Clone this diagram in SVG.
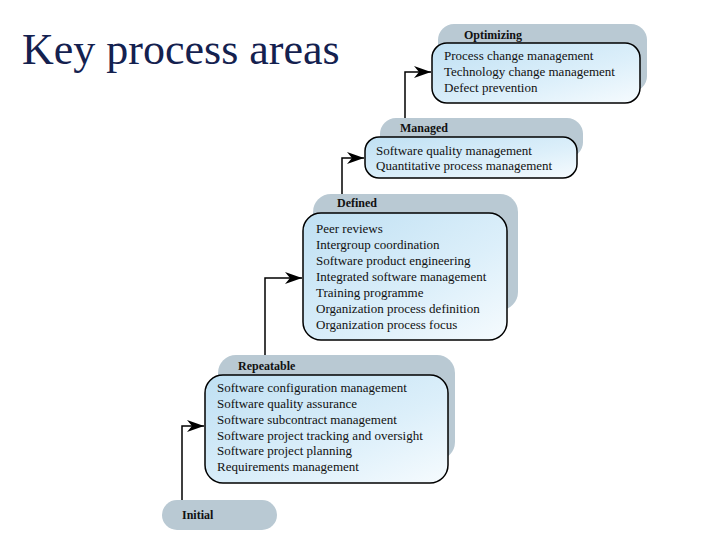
<svg xmlns="http://www.w3.org/2000/svg" width="720" height="540" viewBox="0 0 720 540">
<defs>
<linearGradient id="g" x1="0" y1="0" x2="1" y2="1">
<stop offset="0" stop-color="#bfe0f3"/>
<stop offset="0.6" stop-color="#dceffa"/>
<stop offset="1" stop-color="#f6fbfe"/>
</linearGradient>
<marker id="ah" markerUnits="userSpaceOnUse" markerWidth="18" markerHeight="12" refX="17" refY="6" orient="auto">
<path d="M0,0 L17,6 L0,12 L5,6 z" fill="#000"/>
</marker>
<style>
.back{fill:#b9c9d3}
.front{fill:url(#g);stroke:#000;stroke-width:1.5}
.t{font-family:"Liberation Serif","Times New Roman",serif;font-size:13px;fill:#111}
.h{font-family:"Liberation Serif","Times New Roman",serif;font-size:12px;font-weight:bold;fill:#111}
.c{fill:none;stroke:#000;stroke-width:1.5}
</style>
</defs>
<rect width="720" height="540" fill="#fff"/>
<text x="22" y="64" font-family="'Liberation Serif','Times New Roman',serif" font-size="44" fill="#14214f">Key process areas</text>

<g id="connectors">
<path class="c" d="M182 500 V426 H204" marker-end="url(#ah)"/>
<path class="c" d="M265 355 V278 H302" marker-end="url(#ah)"/>
<path class="c" d="M342 194 V158 H364" marker-end="url(#ah)"/>
<path class="c" d="M405 118 V72 H431" marker-end="url(#ah)"/>
</g>

<g id="initial">
<rect class="back" x="162" y="500" width="115" height="30" rx="15"/>
<text class="h" x="182" y="519">Initial</text>
</g>

<g id="repeatable">
<rect class="back" x="218" y="355" width="237" height="105" rx="18"/>
<text class="h" x="238" y="370">Repeatable</text>
<rect class="front" x="205" y="375" width="243" height="108" rx="18"/>
<text class="t" x="217" y="392">Software configuration management</text>
<text class="t" x="217" y="408">Software quality assurance</text>
<text class="t" x="217" y="424">Software subcontract management</text>
<text class="t" x="217" y="440">Software project tracking and oversight</text>
<text class="t" x="217" y="455">Software project planning</text>
<text class="t" x="217" y="471">Requirements management</text>
</g>

<g id="defined">
<rect class="back" x="313" y="194" width="205" height="116" rx="18"/>
<text class="h" x="337" y="207">Defined</text>
<rect class="front" x="303" y="213" width="204" height="127" rx="18"/>
<text class="t" x="316" y="233">Peer reviews</text>
<text class="t" x="316" y="249">Intergroup coordination</text>
<text class="t" x="316" y="265">Software product engineering</text>
<text class="t" x="316" y="281">Integrated software management</text>
<text class="t" x="316" y="297">Training programme</text>
<text class="t" x="316" y="313">Organization process definition</text>
<text class="t" x="316" y="329">Organization process focus</text>
</g>

<g id="managed">
<rect class="back" x="380" y="118" width="203" height="40" rx="16"/>
<text class="h" x="400" y="132">Managed</text>
<rect class="front" x="365" y="137" width="212" height="41" rx="14"/>
<text class="t" x="376" y="155">Software quality management</text>
<text class="t" x="376" y="170">Quantitative process management</text>
</g>

<g id="optimizing">
<rect class="back" x="438" y="24" width="209" height="68" rx="16"/>
<text class="h" x="464" y="39">Optimizing</text>
<rect class="front" x="432" y="43" width="208" height="60" rx="15"/>
<text class="t" x="444" y="60">Process change management</text>
<text class="t" x="444" y="76">Technology change management</text>
<text class="t" x="444" y="92">Defect prevention</text>
</g>
</svg>
